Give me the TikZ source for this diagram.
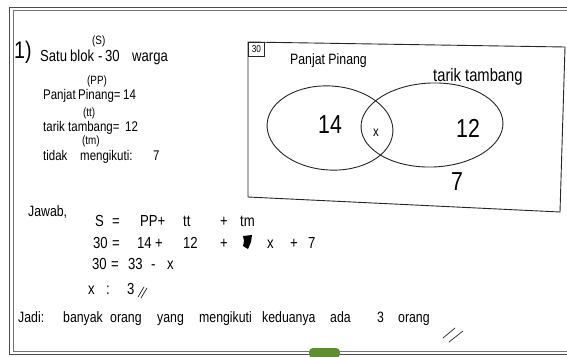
\documentclass[tikz,border=0pt]{standalone}
\usepackage{fontspec}
\setmainfont{Liberation Sans}
\newfontfamily\hwfont[FakeStretch=0.82]{Liberation Sans}
\usetikzlibrary{shapes.geometric}
\definecolor{tabgreen}{HTML}{5E8F2E}
\tikzset{
  hw/.style={inner sep=0pt, anchor=base west, font=\hwfont\fontsize{16}{16}\selectfont},
  hwm/.style={inner sep=0pt, anchor=base west, font=\hwfont\fontsize{14}{14}\selectfont},
  hwc/.style={inner sep=0pt, anchor=base west, font=\hwfont\fontsize{15}{15}\selectfont},
  hws/.style={inner sep=0pt, anchor=base west, font=\hwfont\fontsize{12}{12}\selectfont},
  big/.style={inner sep=0pt, anchor=base west, font=\hwfont\fontsize{26}{26}\selectfont},
  ink/.style={draw=black!85, line width=0.9pt, line cap=round, line join=round},
  frame/.style={draw=black!70, line width=1pt},
  venn/.style={ellipse, draw=black!85, line width=0.9pt, inner sep=0pt}
}
\begin{document}
\begin{tikzpicture}[x=1pt,y=-1pt]
\useasboundingbox (0,0) rectangle (567,356);
\fill[white] (0,0) rectangle (567,356);
% page frame (double line)
\coordinate (ftl) at (9.5,7);
\coordinate (ftr) at (567,7);
\coordinate (fbl) at (9.5,354);
\coordinate (fbr) at (567,354);
\draw[frame] (ftr) -- (ftl) -- (fbl) -- (fbr);
\draw[draw=black!55, line width=0.6pt] (567,10.5) -- (13,10.5) -- (13,351) -- (567,351);
% green tab
\fill[tabgreen, rounded corners=4pt] (309,358) -- (309,348) -- (340,348) -- (340,358) -- cycle;

% problem number
\node[inner sep=0pt, anchor=base west, font=\hwfont\fontsize{24}{24}\selectfont] (num) at (14,58) {1)};

% given data
\node[hws] (s) at (92,44) {(S)};
\foreach \x/\t [count=\i] in {40/Satu,70/blok,98/-,105/30,132/warga}
  \node[hw] (l1w\i) at (\x,61) {\t};
\node[hws] (pp) at (87,84) {(PP)};
\foreach \x/\t [count=\i] in {43/Panjat,78/Pinang=,123/14}
  \node[hwm] (l2w\i) at (\x,99) {\t};
\node[hws] (tt) at (83,116) {(tt)};
\foreach \x/\t [count=\i] in {43/tarik,68/tambang=,125/12}
  \node[hwm] (l3w\i) at (\x,131) {\t};
\node[hws] (tm) at (82,144) {(tm)};
\foreach \x/\t [count=\i] in {43/tidak,80/mengikuti:,153/7}
  \node[hwm] (l4w\i) at (\x,160) {\t};

% Venn diagram
\coordinate (b1) at (248,42);
\coordinate (b2) at (565,47);
\coordinate (b3) at (560,212);
\coordinate (b4) at (248,197);
\draw[ink] (b1) -- (b2) -- (b3) -- (b4) -- cycle;
\node[draw=black!85, line width=0.8pt, minimum width=16pt, minimum height=14pt, inner sep=0pt, anchor=north west, font=\hwfont\fontsize{10}{10}\selectfont] (uni) at (b1) {30};
\node[hw, font=\hwfont\fontsize{15}{15}\selectfont] (lpp) at (290,64) {Panjat Pinang};
\node[hw, font=\hwfont\fontsize{18}{18}\selectfont] (ltt) at (433,81) {tarik tambang};
\node[venn, minimum width=126pt, minimum height=84pt, rotate=-4] (A) at (330,128) {};
\node[venn, minimum width=142pt, minimum height=84pt, rotate=2] (B) at (432,125) {};
\node[big] (n14) at (318,133) {14};
\node[inner sep=0pt, anchor=base west, font=\hwfont\fontsize{14}{14}\selectfont] (nx) at (373,136) {x};
\node[big] (n12) at (456,137) {12};
\node[big] (n7) at (451,190) {7};

% solution
\node[hws, font=\hwfont\fontsize{15}{15}\selectfont] (jawab) at (28,216) {Jawab,};
\foreach \x/\t [count=\i] in {95/S,112/=,140/PP+,183/tt,220/+,240/tm}
  \node[hw] (e1w\i) at (\x,226) {\t};
\foreach \x/\t [count=\i] in {93/30,112/=,137/14,155/+,183/12,220/+,267/x,290/+,308/7}
  \node[hw] (e2w\i) at (\x,248) {\t};
\fill[black] (243,236) -- (252,235) -- (251,242) -- (248,249) -- (243,246) -- (244,241) -- cycle;
\foreach \x/\t [count=\i] in {92/30,111/=,128/33,151/-,167/x}
  \node[hw] (e3w\i) at (\x,269) {\t};
\foreach \x/\t [count=\i] in {88/x,106/:,127/3}
  \node[hw] (e4w\i) at (\x,294) {\t};
\draw[ink, line width=0.7pt] (138,297) -- (144,287);
\draw[ink, line width=0.7pt] (141,298) -- (147,288);

% conclusion
\foreach \x/\t [count=\i] in {18/Jadi:,63/banyak,110/orang,157/yang,199/mengikuti,262/keduanya,330/ada,377/3,398/orang}
  \node[hwc] (cw\i) at (\x,322) {\t};
\draw[ink, line width=0.7pt] (443,338) -- (455,328);
\draw[ink, line width=0.7pt] (449,342) -- (463,331);
\end{tikzpicture}
\end{document}
